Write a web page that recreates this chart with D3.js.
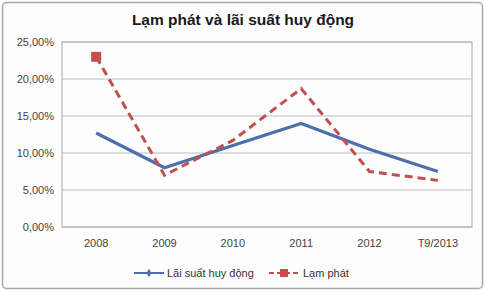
<!DOCTYPE html>
<html>
<head>
<meta charset="utf-8">
<script src="https://cdn.jsdelivr.net/npm/d3@7"></script>
<style>
  body { margin: 0; background: #fff; }
  svg text { font-family: "Liberation Sans", Arial, sans-serif; }
</style>
</head>
<body>
<svg id="chart" width="485" height="291"></svg>
<script>
// data
var categories = ["2008", "2009", "2010", "2011", "2012", "T9/2013"];
var laiSuat = [12.7, 8.0, 11.0, 14.0, 10.5, 7.5];   // Lãi suất huy động
var lamPhat = [23.0, 7.0, 11.7, 18.7, 7.5, 6.3];    // Lạm phát
var yTicks = [0, 5, 10, 15, 20, 25];

var svg = d3.select("#chart");
var W = 485, H = 291;
var margin = {top: 42, right: 13, bottom: 64, left: 62},
    width = W - margin.left - margin.right,
    height = H - margin.top - margin.bottom;

// outer frame
svg.append("rect")
    .attr("x", 2.5).attr("y", 2.5)
    .attr("width", W - 5).attr("height", H - 5)
    .attr("rx", 4)
    .attr("fill", "#fdfdfd")
    .attr("stroke", "#a8a8a8")
    .attr("stroke-width", 1.5);

svg.append("text")
    .attr("x", 243).attr("y", 25)
    .attr("text-anchor", "middle")
    .style("font-size", "15.5px")
    .style("font-weight", "bold")
    .attr("fill", "#1a1a1a")
    .text("Lạm phát và lãi suất huy động");

var x = d3.scaleBand().domain(categories).range([0, width]);
var y = d3.scaleLinear().domain([0, 25]).range([height, 0]);

var g = svg.append("g")
    .attr("transform", "translate(" + margin.left + "," + margin.top + ")");

// gridlines
g.append("g")
    .selectAll("line")
    .data(yTicks).enter().append("line")
    .attr("x1", 0).attr("x2", width)
    .attr("y1", function(d) { return y(d); })
    .attr("y2", function(d) { return y(d); })
    .attr("stroke", "#bdbdbd")
    .attr("stroke-width", 1.2);

// plot border
g.append("rect")
    .attr("x", 0).attr("y", 0)
    .attr("width", width).attr("height", height)
    .attr("fill", "none")
    .attr("stroke", "#b5b5b5")
    .attr("stroke-width", 1.2);

// y axis labels
var yAxis = d3.axisLeft(y).tickValues(yTicks).tickSize(0).tickPadding(8)
    .tickFormat(function(d) { return d3.format(".2f")(d).replace(".", ",") + "%"; });
var ya = g.append("g").call(yAxis);
ya.select(".domain").remove();
ya.selectAll("text").style("font-size", "11px").attr("fill", "#444")
    .style("font-family", "'Liberation Sans', Arial, sans-serif");

// x axis labels
var xAxis = d3.axisBottom(x).tickSize(0).tickPadding(12);
var xa = g.append("g").attr("transform", "translate(0," + height + ")").call(xAxis);
xa.select(".domain").remove();
xa.selectAll("text").style("font-size", "11px").attr("fill", "#444")
    .style("font-family", "'Liberation Sans', Arial, sans-serif");

var cx = function(i) { return x(categories[i]) + x.bandwidth() / 2; };

var line = d3.line()
    .x(function(d, i) { return cx(i); })
    .y(function(d) { return y(d); });

g.append("path")
    .datum(laiSuat)
    .attr("d", line)
    .attr("fill", "none")
    .attr("stroke", "#4e6fae")
    .attr("stroke-width", 3.2);

g.append("path")
    .datum(lamPhat)
    .attr("d", line)
    .attr("fill", "none")
    .attr("stroke", "#c0504d")
    .attr("stroke-width", 3)
    .attr("stroke-dasharray", "8,5");

// only the first point of "Lạm phát" shows its marker
g.append("rect")
    .attr("x", cx(0) - 5).attr("y", y(lamPhat[0]) - 5)
    .attr("width", 10).attr("height", 10)
    .attr("fill", "#c0504d");

// legend
var leg = svg.append("g").attr("transform", "translate(0,273)");
leg.append("line").attr("x1", 134).attr("x2", 164).attr("y1", 0).attr("y2", 0)
    .attr("stroke", "#4e6fae").attr("stroke-width", 2);
leg.append("path").attr("d", d3.symbol().type(d3.symbolDiamond).size(22))
    .attr("transform", "translate(149,0)").attr("fill", "#4e6fae");
leg.append("text").attr("x", 167).attr("y", 4).style("font-size", "11px")
    .attr("fill", "#333").text("Lãi suất huy động");

leg.append("line").attr("x1", 269).attr("x2", 299).attr("y1", 0).attr("y2", 0)
    .attr("stroke", "#c0504d").attr("stroke-width", 2).attr("stroke-dasharray", "5,3");
leg.append("rect").attr("x", 280).attr("y", -4).attr("width", 8).attr("height", 8)
    .attr("fill", "#c0504d");
leg.append("text").attr("x", 303).attr("y", 4).style("font-size", "11px")
    .attr("fill", "#333").text("Lạm phát");
</script>
</body>
</html>
